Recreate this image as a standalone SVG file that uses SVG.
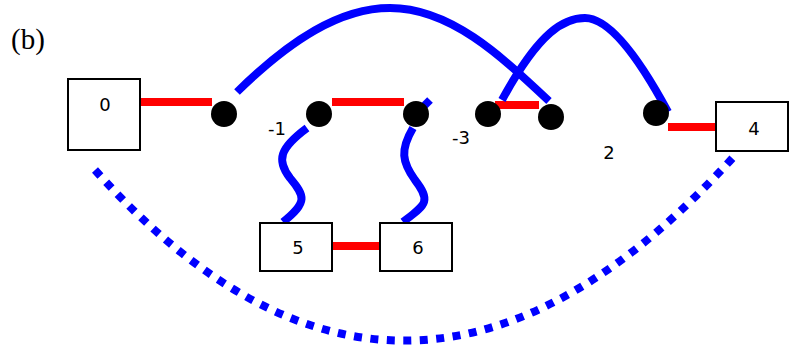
<svg xmlns="http://www.w3.org/2000/svg" width="791" height="347" viewBox="0 0 791 347">
<style>
.box{fill:#fff;stroke:#000;stroke-width:2}
.lbl{font-family:"DejaVu Sans",sans-serif;font-size:18px;fill:#000;text-anchor:middle}
.red{stroke:#ff0000;stroke-width:8;fill:none}
.blue{stroke:#0000ff;stroke-width:8;fill:none}
.dotted{stroke:#0000ff;stroke-width:8;fill:none;stroke-dasharray:8 8.5}
.dot{fill:#000}
</style>
<rect width="791" height="347" fill="#fff"/>
<text x="11" y="49" font-family="Liberation Serif, serif" font-size="29" fill="#000">(b)</text>
<g id="connectors">
<line class="red" x1="140" y1="102" x2="212" y2="102"/>
<line class="red" x1="332" y1="102" x2="404" y2="102"/>
<line class="red" x1="495" y1="105" x2="539" y2="105"/>
<line class="red" x1="668" y1="127" x2="717" y2="127"/>
<line class="red" x1="332" y1="246" x2="380" y2="246"/>
<path class="blue" d="M237,92 C290,40 340,8 390,8 C450,8 500,55 549,101"/>
<path class="blue" d="M502,100 C540,30 565,18 585,18 C610,18 640,60 668,112"/>
<path class="blue" d="M307,128 C280,148 276,160 290,178 C305,196 308,202 283,222"/>
<path class="blue" d="M413,128 C400,150 402,162 415,180 C432,202 425,205 403,222"/>
<line class="blue" x1="420" y1="110" x2="430" y2="100"/>
<path class="dotted" d="M95,170 Q408,520 738,152"/>
</g>
<g id="node0"><rect class="box" x="68" y="79" width="72" height="71"/><text class="lbl" x="105" y="111">0</text></g>
<g id="node4"><rect class="box" x="716" y="102" width="72" height="49"/><text class="lbl" x="754" y="135">4</text></g>
<g id="node5"><rect class="box" x="260" y="223" width="72" height="48"/><text class="lbl" x="298" y="254">5</text></g>
<g id="node6"><rect class="box" x="380" y="223" width="72" height="48"/><text class="lbl" x="418" y="254">6</text></g>
<g id="dots">
<circle class="dot" cx="224" cy="114" r="13"/>
<circle class="dot" cx="319" cy="114" r="13"/>
<circle class="dot" cx="416" cy="114" r="13"/>
<circle class="dot" cx="488" cy="114" r="13"/>
<circle class="dot" cx="551" cy="117" r="13"/>
<circle class="dot" cx="656" cy="113" r="13"/>
</g>
<g id="labels">
<text class="lbl" x="277" y="135">-1</text>
<text class="lbl" x="461" y="144">-3</text>
<text class="lbl" x="609" y="159">2</text>
</g>
</svg>
